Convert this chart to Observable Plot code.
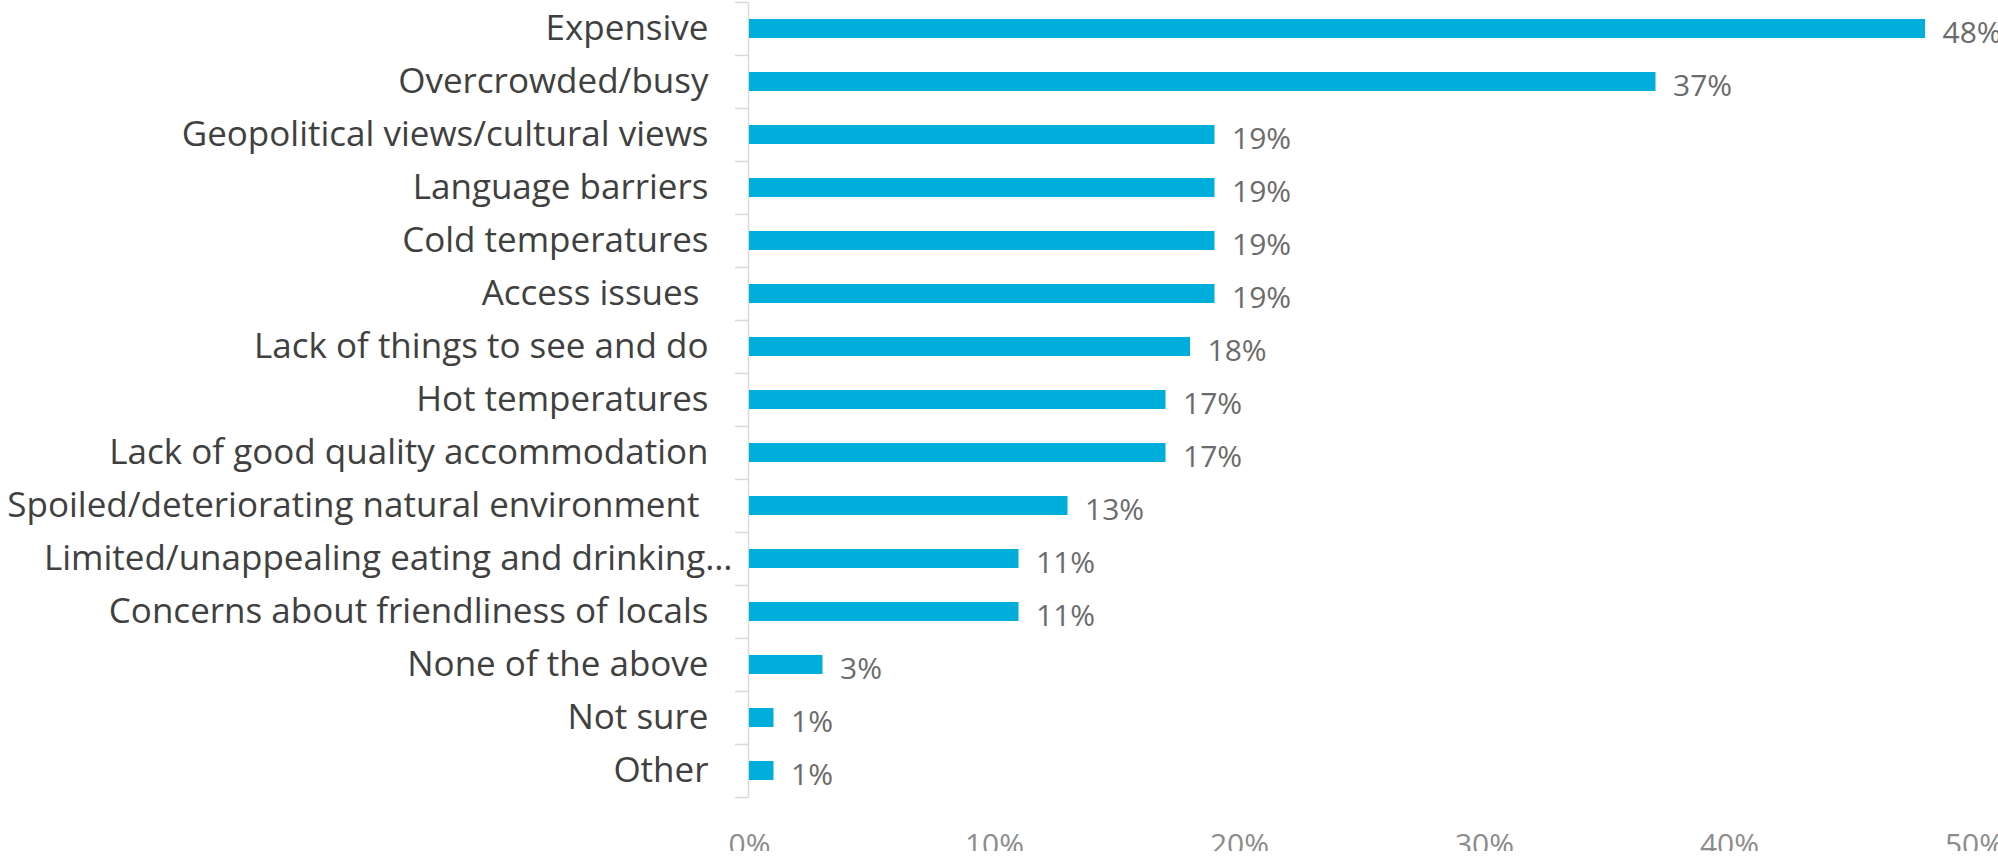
<!DOCTYPE html>
<html>
<head>
<meta charset="utf-8">
<script src="https://cdn.jsdelivr.net/npm/d3@7"></script>
<script src="https://cdn.jsdelivr.net/npm/@observablehq/plot@0.6"></script>
<style>
  html, body { margin: 0; padding: 0; background: #ffffff; overflow: hidden; }
  #chart { width: 1998px; height: 865px; background: #ffffff; }
</style>
</head>
<body>
<div id="chart"></div>
<script>
const categories = [
  "Expensive",
  "Overcrowded/busy",
  "Geopolitical views/cultural views",
  "Language barriers",
  "Cold temperatures",
  "Access issues ",
  "Lack of things to see and do",
  "Hot temperatures",
  "Lack of good quality accommodation",
  "Spoiled/deteriorating natural environment ",
  "Limited/unappealing eating and drinking…",
  "Concerns about friendliness of locals",
  "None of the above",
  "Not sure",
  "Other"
];
const values = [48, 37, 19, 19, 19, 19, 18, 17, 17, 13, 11, 11, 3, 1, 1];
const xTicks = [0, 10, 20, 30, 40, 50];
const truncatedLabel = "Limited/unappealing eating and drinking…";

const data = categories.map((c, i) => ({category: c, value: values[i]}));

const W = 1998, H = 851, mT = 2, mB = 53, mL = 749, mR = 24;
const step = (H - mT - mB) / categories.length;
const fontFamily = "'Segoe UI', 'Open Sans', 'Noto Sans', sans-serif";

const chart = Plot.plot({
  width: W,
  height: H,
  marginTop: mT,
  marginBottom: mB,
  marginLeft: mL,
  marginRight: mR,
  style: {fontFamily, overflow: "hidden", background: "#ffffff"},
  x: {domain: [0, 50]},
  y: {domain: categories, paddingInner: 0.64, paddingOuter: 0.32},
  marks: [
    Plot.ruleX([0], {stroke: "#d9d9d9", strokeWidth: 1.5, dx: -1}),
    Plot.axisY(categories, {tickSize: 13, fill: "none", stroke: "#d9d9d9", strokeWidth: 1.5, dy: -step / 2, dx: -1, label: null}),
    Plot.axisY([categories[categories.length - 1]], {tickSize: 13, fill: "none", stroke: "#d9d9d9", strokeWidth: 1.5, dy: step / 2, dx: -1, label: null}),
    Plot.barX(data, {x: "value", y: "category", fill: "#00AEDC"}),
    Plot.text(data, {
      x: "value", y: "category",
      text: d => d.value + "%",
      textAnchor: "start", dx: 17, dy: 4,
      fill: "#6b6b6b", fontSize: 30
    }),
    Plot.axisY(categories.filter(c => c !== truncatedLabel), {
      tickSize: 0, tickPadding: 41, fontSize: 35, color: "#404040", label: null
    }),
    Plot.axisY([truncatedLabel], {
      tickSize: 0, tickPadding: 17, fontSize: 35, color: "#404040", label: null
    }),
    Plot.axisX(xTicks, {
      anchor: "bottom", tickSize: 0, tickPadding: 35, fontSize: 30,
      color: "#8c8c8c", tickFormat: d => d + "%", label: null
    })
  ]
});

document.getElementById("chart").appendChild(chart);
</script>
</body>
</html>
